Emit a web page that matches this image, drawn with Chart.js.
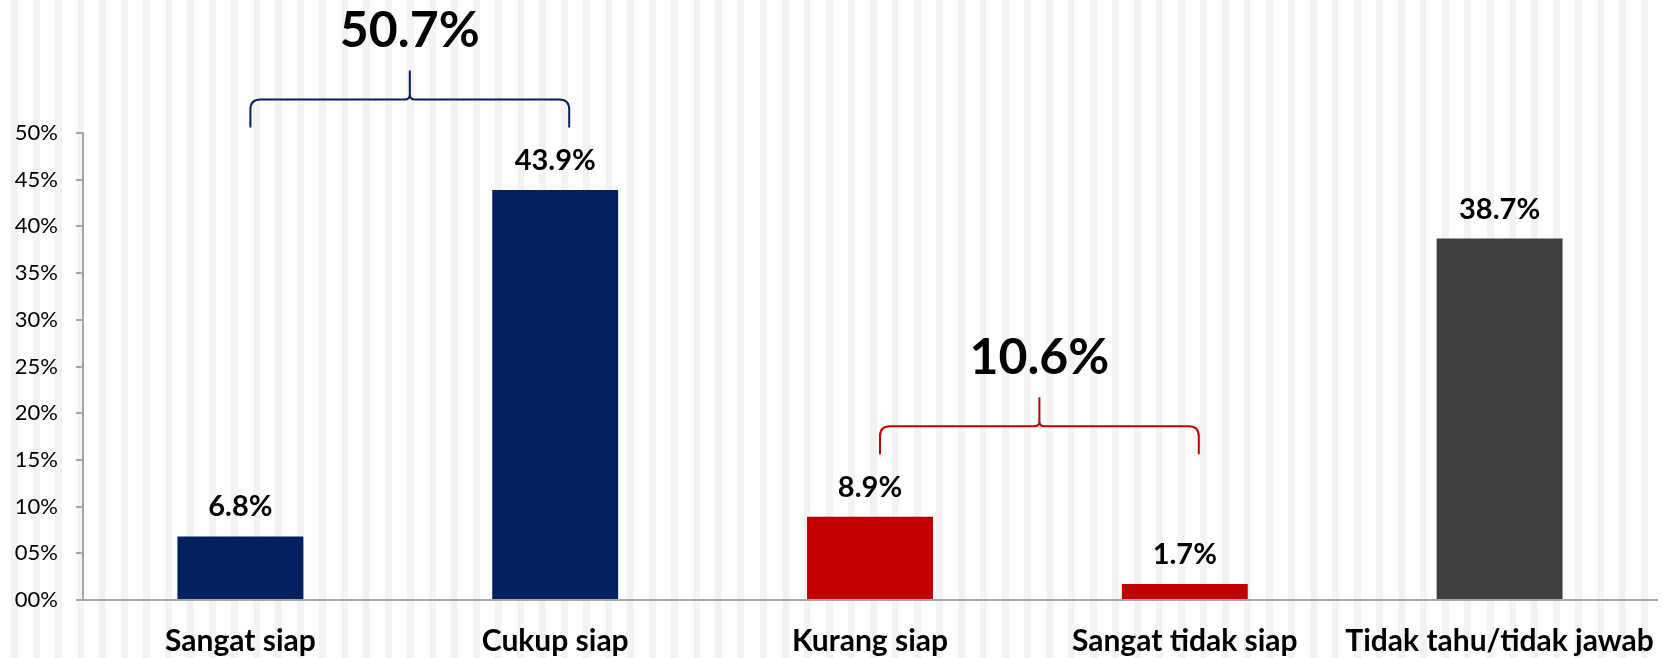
<!DOCTYPE html>
<html>
<head>
<meta charset="utf-8">
<script src="https://cdn.jsdelivr.net/npm/chart.js@4/dist/chart.umd.min.js"></script>
<style>
  html, body { margin: 0; padding: 0; background: #fff; }
  #wrap { width: 1663px; height: 658px; position: relative; }
</style>
</head>
<body>
<div id="wrap"><canvas id="readinessChart"></canvas></div>
<script>
// chart data
const categories = ['Sangat siap', 'Cukup siap', 'Kurang siap', 'Sangat tidak siap', 'Tidak tahu/tidak jawab'];
const values = [6.8, 43.9, 8.9, 1.7, 38.7];
const barColors = ['#002060', '#002060', '#C00000', '#C00000', '#404040'];
const yTicks = [0, 5, 10, 15, 20, 25, 30, 35, 40, 45, 50];

// grouped totals shown above the braces
const groupLabels = ['50.7%', '10.6%'];
const groupFrom = [0, 2];
const groupTo = [1, 3];
const groupColors = ['#002060', '#C00000'];
const groupLevels = [53.6, 18.6];

// striped background like the original slide
const stripesPlugin = {
  id: 'stripes',
  beforeDraw(chart) {
    const ctx = chart.ctx;
    ctx.save();
    ctx.fillStyle = '#f3f3f3';
    for (let x = 10.5; x < chart.width; x += 22.03) {
      ctx.fillRect(Math.round(x), 0, 7, chart.height);
    }
    ctx.restore();
  }
};

// value labels above bars + braces with totals
const labelsPlugin = {
  id: 'barLabels',
  afterDatasetsDraw(chart) {
    const ctx = chart.ctx;
    const meta = chart.getDatasetMeta(0);
    const yScale = chart.scales.y;
    const xScale = chart.scales.x;
    ctx.save();
    ctx.fillStyle = '#000';
    ctx.textAlign = 'center';
    ctx.textBaseline = 'alphabetic';
    ctx.font = 'bold 29px Lato';
    meta.data.forEach((bar, i) => {
      ctx.fillText(values[i].toFixed(1) + '%', bar.x, bar.y - 20);
    });

    groupLabels.forEach((txt, g) => {
      const x0 = xScale.getPixelForValue(groupFrom[g]) + 10;
      const x1 = xScale.getPixelForValue(groupTo[g]) + 14;
      const xm = (x0 + x1) / 2;
      const yH = yScale.getPixelForValue(groupLevels[g]);
      const yB = yH + 28;
      const yC = yH - 29;
      const r = 10, r2 = 5;
      ctx.strokeStyle = groupColors[g];
      ctx.lineWidth = 2;
      ctx.beginPath();
      ctx.moveTo(x0, yB);
      ctx.lineTo(x0, yH + r);
      ctx.quadraticCurveTo(x0, yH, x0 + r, yH);
      ctx.lineTo(xm - r2, yH);
      ctx.quadraticCurveTo(xm, yH, xm, yH - r2);
      ctx.lineTo(xm, yC);
      ctx.moveTo(xm, yH - r2);
      ctx.quadraticCurveTo(xm, yH, xm + r2, yH);
      ctx.lineTo(x1 - r, yH);
      ctx.quadraticCurveTo(x1, yH, x1, yH + r);
      ctx.lineTo(x1, yB);
      ctx.stroke();

      ctx.fillStyle = '#000';
      ctx.font = 'bold 50px Lato';
      ctx.fillText(txt, xm, yC - 23);
    });
    ctx.restore();
  }
};

const ctx = document.getElementById('readinessChart').getContext('2d');
new Chart(ctx, {
  type: 'bar',
  data: {
    labels: categories,
    datasets: [{
      data: values,
      backgroundColor: barColors,
      borderWidth: 0,
      barPercentage: 0.4,
      categoryPercentage: 1.0
    }]
  },
  options: {
    responsive: true,
    maintainAspectRatio: false,
    animation: false,
    layout: {
      padding: { top: 133, right: 6, bottom: 0, left: 0 }
    },
    plugins: {
      legend: { display: false },
      tooltip: { enabled: false }
    },
    scales: {
      y: {
        min: 0,
        max: 50,
        afterBuildTicks(scale) {
          scale.ticks = yTicks.map(v => ({ value: v }));
        },
        afterFit(scale) {
          scale.width = 83;
        },
        grid: {
          drawOnChartArea: false,
          drawTicks: true,
          tickLength: 7,
          color: '#a6a6a6',
          lineWidth: 2
        },
        border: { color: '#a6a6a6', width: 2 },
        ticks: {
          padding: 18,
          color: '#000',
          font: { family: 'Lato', size: 22 },
          callback: v => String(v).padStart(2, '0') + '%'
        }
      },
      x: {
        afterFit(scale) {
          scale.height = 58;
          // let the long last label run past the axis end, like the original
          scale.paddingLeft = 0;
          scale.paddingRight = 0;
        },
        grid: {
          drawOnChartArea: false,
          drawTicks: false,
          color: '#a6a6a6'
        },
        border: { color: '#a6a6a6', width: 2 },
        ticks: {
          padding: 23,
          color: '#000',
          font: { family: 'Lato', size: 30, weight: 'bold' }
        }
      }
    }
  },
  plugins: [stripesPlugin, labelsPlugin]
});
</script>
</body>
</html>
